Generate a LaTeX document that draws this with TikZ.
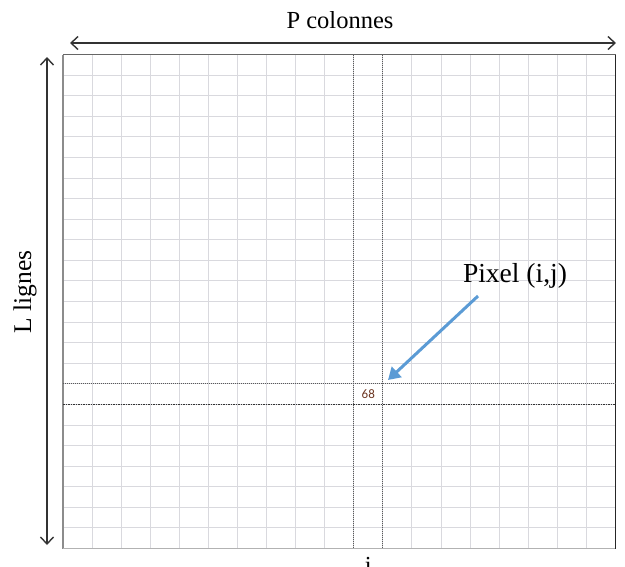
\documentclass[tikz,border=0pt]{standalone}
\usepackage{fontspec}
\setmainfont{Liberation Serif}
\newfontfamily\numfont{Carlito}
\usetikzlibrary{arrows.meta}
\definecolor{gridgray}{RGB}{217,217,222}
\definecolor{arrowblue}{RGB}{91,155,213}
\definecolor{numbrown}{RGB}{110,55,35}
\tikzset{
  gridline/.style={draw=gridgray, line width=0.9pt},
  dimarrow/.style={draw=black!80, line width=1.4pt, {Straight Barb[length=7pt,width=13pt,line width=1.4pt]}-{Straight Barb[length=7pt,width=13pt,line width=1.4pt]}},
  markline/.style={draw=black!65, line width=0.8pt, dash pattern=on 1pt off 1pt},
  markdark/.style={draw=black!80, line width=0.9pt, dash pattern=on 1.5pt off 1pt},
  lbl/.style={font=\fontsize{24.5}{26}\selectfont, inner sep=0pt},
  pointer/.style={draw=arrowblue, line width=3pt, -{Triangle[length=12pt,width=14pt]}}
}
\begin{document}
\begin{tikzpicture}[x=1pt,y=-1pt]
\useasboundingbox (0,0) rectangle (625,566);
\pgfmathsetmacro{\xa}{63}
\pgfmathsetmacro{\xb}{615.5}
\pgfmathsetmacro{\ya}{54.5}
\pgfmathsetmacro{\yb}{548.5}
\pgfmathsetmacro{\cw}{(\xb-\xa)/19}
\pgfmathsetmacro{\rh}{(\yb-\ya)/24}
% grid
\foreach \k in {1,...,18} {
  \draw[gridline] ({\xa+\k*\cw},\ya) -- ({\xa+\k*\cw},\yb);
}
\foreach \k in {1,...,23} {
  \draw[gridline] (\xa,{\ya+\k*\rh}) -- (\xb,{\ya+\k*\rh});
}
% borders
\draw[draw=black!45, line width=1.2pt] (\xa,\ya) -- (\xa,\yb);
\draw[draw=black!30, line width=1.5pt] (\xa,\yb) -- (\xb,\yb);
\draw[draw=black!60, line width=1.4pt] (\xa,\ya) -- (\xb,\ya);
\draw[draw=black!85, line width=1.2pt] (\xb,\ya) -- (\xb,\yb);
% marked row and column
\draw[markline] ({\xa+10*\cw},\ya) -- ({\xa+10*\cw},\yb);
\draw[markline] ({\xa+11*\cw},\ya) -- ({\xa+11*\cw},\yb);
\draw[markline] (\xa,{\ya+16*\rh}) -- (\xb,{\ya+16*\rh});
\draw[markdark] (\xa,{\ya+17*\rh}) -- (\xb,{\ya+17*\rh});
% pixel value
\node[inner sep=0pt, text=numbrown, font=\numfont\fontsize{13}{14}\selectfont] (val) at ({\xa+10.5*\cw},{\ya+16.5*\rh}) {68};
% dimension arrows
\coordinate (pl) at (70,43);
\coordinate (pr) at (616,43);
\coordinate (lt) at (47,57);
\coordinate (lb) at (47,545);
\draw[dimarrow] (pl) -- (pr);
\draw[dimarrow] (lt) -- (lb);
\node[lbl] (pcol) at (340,20) {P colonnes};
\node[lbl, rotate=90, font=\fontsize{25.5}{27}\selectfont] (llig) at (25,292) {L lignes};
% pointer
\node[lbl, font=\fontsize{27.5}{29}\selectfont] (pix) at (515,276) {Pixel (i,j)};
\coordinate (ps) at (478,296);
\coordinate (pe) at (388,380);
\draw[pointer] (ps) -- (pe);
% column index
\node[lbl, anchor=base] (ci) at ({\xa+10.5*\cw},573) {i};
\end{tikzpicture}
\end{document}
